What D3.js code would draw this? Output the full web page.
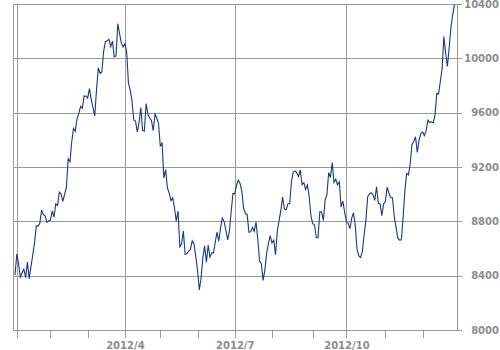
<!DOCTYPE html>
<html>
<head>
<meta charset="utf-8">
<script src="https://cdn.jsdelivr.net/npm/d3@7"></script>
<style>
  body { margin: 0; background: #fff; }
  .axis text { font-family: "DejaVu Sans", Verdana, sans-serif; font-size: 10px; font-weight: bold; fill: #8c8c8c; }
  .axis line { stroke: #9a9a9a; }
</style>
</head>
<body>
<div id="chart"></div>
<script>
// daily closes, one array per month (last trading day of 2011 first)
var dec2011 = [8405];
var jan = [8560, 8488, 8390, 8422, 8448, 8385, 8500, 8378, 8466, 8550, 8639, 8766, 8765, 8785, 8883, 8849, 8841, 8793, 8802];
var feb = [8809, 8876, 8831, 8929, 8917, 9015, 9002, 8947, 8999, 9052, 9260, 9238, 9384, 9485, 9463, 9554, 9595, 9647, 9633, 9722, 9723];
var mar = [9707, 9777, 9698, 9637, 9576, 9768, 9929, 9890, 9899, 10050, 10123, 10129, 10141, 10086, 10127, 10011, 10018, 10255, 10182, 10114, 10083];
var apr = [10109, 10050, 9819, 9767, 9688, 9546, 9538, 9458, 9524, 9637, 9470, 9464, 9667, 9588, 9561, 9542, 9467, 9590, 9561, 9520];
var may = [9350, 9380, 9119, 9181, 9045, 9009, 8953, 8973, 8900, 8801, 8876, 8611, 8633, 8729, 8556, 8563, 8580, 8593, 8657, 8633, 8542];
var jun = [8440, 8295, 8383, 8533, 8620, 8500, 8625, 8536, 8569, 8568, 8647, 8721, 8655, 8752, 8825, 8798, 8735, 8663, 8730, 8874, 9006];
var jul = [9003, 9066, 9104, 9079, 9020, 8896, 8857, 8851, 8720, 8724, 8755, 8726, 8795, 8669, 8508, 8488, 8365, 8443, 8566, 8635, 8695];
var aug = [8641, 8662, 8555, 8726, 8804, 8881, 8978, 8891, 8885, 8929, 8929, 9092, 9163, 9171, 9157, 9131, 9178, 9070, 9085, 9033, 9068, 8983, 8839];
var sep = [8783, 8775, 8679, 8680, 8871, 8869, 8807, 8959, 8995, 9159, 9123, 9232, 9086, 9110, 9069, 9091, 8906, 8949, 8870];
var oct = [8797, 8786, 8746, 8824, 8863, 8769, 8596, 8546, 8534, 8577, 8701, 8806, 8982, 9002, 9010, 8996, 8954, 9055, 8933, 8929, 8841, 8928];
var nov = [8946, 9051, 9007, 8975, 8972, 8837, 8757, 8676, 8661, 8664, 8830, 9024, 9153, 9142, 9222, 9366, 9388, 9423, 9308, 9400, 9446];
var dec = [9458, 9432, 9468, 9545, 9527, 9533, 9525, 9581, 9742, 9737, 9828, 9923, 10160, 10039, 9940, 10080, 10230, 10322, 10395];

var monthLabels = ["", "", "", "2012/4", "", "", "2012/7", "", "", "2012/10", "", ""];
var gridMonths = [0, 3, 6, 9];
var yTicks = [8000, 8400, 8800, 9200, 9600, 10000, 10400];

var months = [jan, feb, mar, apr, may, jun, jul, aug, sep, oct, nov, dec];
var values = dec2011.concat.apply(dec2011, months);

// index of first trading day of each month
var monthStart = [];
var n = dec2011.length;
months.forEach(function(m) {
    monthStart.push(n);
    n += m.length;
});

var width = 500, height = 350;
var plot = { left: 13, right: 457, top: 4, bottom: 330 };

var x = d3.scaleLinear().domain([-1.13, values.length - 1 + 1.41]).range([plot.left, plot.right]);
var y = d3.scaleLinear().domain([8000, 10400]).range([plot.bottom, plot.top]);

var svg = d3.select("#chart").append("svg")
    .attr("width", width)
    .attr("height", height);

var grid = svg.append("g").attr("shape-rendering", "crispEdges").attr("stroke", "#9a9a9a");

// horizontal grid
grid.selectAll(".hgrid").data(yTicks).enter().append("line")
    .attr("x1", plot.left).attr("x2", plot.right + 5)
    .attr("y1", function(d) { return Math.round(y(d)) + 0.5; })
    .attr("y2", function(d) { return Math.round(y(d)) + 0.5; });

// quarter grid
grid.selectAll(".vgrid").data(gridMonths).enter().append("line")
    .attr("x1", function(d) { return Math.round(x(monthStart[d])) + 0.5; })
    .attr("x2", function(d) { return Math.round(x(monthStart[d])) + 0.5; })
    .attr("y1", plot.top).attr("y2", plot.bottom);

// frame sides
grid.selectAll(".side").data([plot.left, plot.right]).enter().append("line")
    .attr("x1", function(d) { return d + 0.5; })
    .attr("x2", function(d) { return d + 0.5; })
    .attr("y1", plot.top).attr("y2", plot.bottom);

// x axis
var xAxis = d3.axisBottom(x)
    .tickValues(monthStart)
    .tickSize(7)
    .tickPadding(4)
    .tickFormat(function(d, i) { return monthLabels[i]; });

svg.append("g")
    .attr("class", "axis")
    .attr("transform", "translate(0," + (plot.bottom + 0.5) + ")")
    .call(xAxis)
    .call(function(g) { g.select(".domain").remove(); })
    .selectAll("line").attr("shape-rendering", "crispEdges");

// y axis labels
var yAxis = d3.axisRight(y)
    .tickValues(yTicks)
    .tickSize(0)
    .tickPadding(42)
    .tickFormat(d3.format("d"));

svg.append("g")
    .attr("class", "axis")
    .attr("transform", "translate(" + plot.right + ",0)")
    .call(yAxis)
    .call(function(g) { g.select(".domain").remove(); })
    .selectAll("text").attr("text-anchor", "end");

var line = d3.line()
    .x(function(d, i) { return x(i); })
    .y(function(d) { return y(d); });

svg.append("path")
    .datum(values)
    .attr("fill", "none")
    .attr("stroke", "#173886")
    .attr("stroke-width", 1.1)
    .attr("d", line);
</script>
</body>
</html>
